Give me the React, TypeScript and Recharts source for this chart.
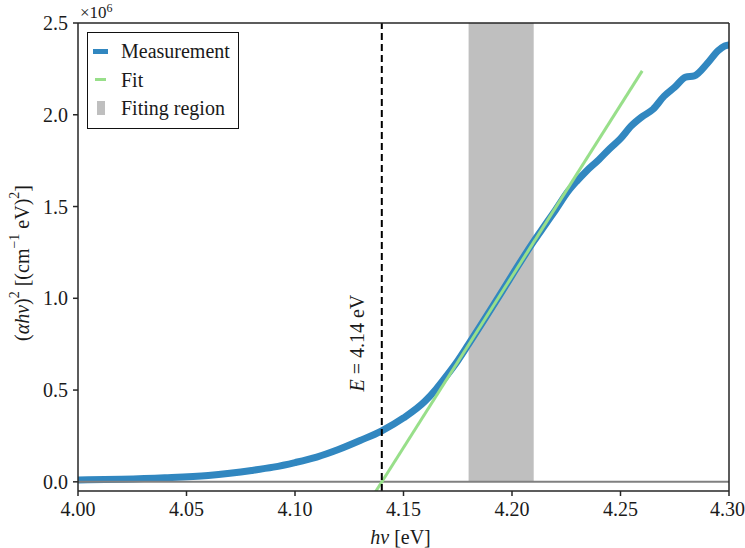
import React from 'react';
import { ComposedChart, Line, XAxis, YAxis, ReferenceArea, ReferenceLine, Legend } from 'recharts';

// Measurement (x in eV, y in 1e6 (cm^-1 eV)^2)
const measX = [4.0, 4.02, 4.04, 4.06, 4.07, 4.08, 4.09, 4.1, 4.11, 4.12, 4.13, 4.14, 4.15, 4.16, 4.165, 4.17, 4.175, 4.18, 4.19, 4.2, 4.21, 4.215, 4.22, 4.226, 4.23, 4.234, 4.24, 4.245, 4.25, 4.255, 4.26, 4.265, 4.27, 4.275, 4.28, 4.284, 4.29, 4.295, 4.298, 4.3, 4.305];
const measY = [0.01, 0.014, 0.022, 0.035, 0.047, 0.062, 0.08, 0.105, 0.135, 0.176, 0.225, 0.278, 0.348, 0.44, 0.505, 0.58, 0.66, 0.75, 0.935, 1.125, 1.31, 1.395, 1.48, 1.585, 1.64, 1.69, 1.755, 1.815, 1.87, 1.94, 1.99, 2.03, 2.1, 2.15, 2.205, 2.212, 2.28, 2.35, 2.375, 2.38, 2.39];

// Linear fit
const fitX = [4.13, 4.26];
const fitY = [-0.187, 2.239];

const bandGap = 4.14;
const regionStart = 4.18;
const regionEnd = 4.21;

const xTicks = [4.0, 4.05, 4.1, 4.15, 4.2, 4.25, 4.3];
const yTicks = [0, 0.5, 1.0, 1.5, 2.0, 2.5];
const xDomain = [4.0, 4.3];
const yDomain = [-0.05, 2.5];

const seriesNames = ['Measurement', 'Fit', 'Fiting region'];

const measData = measX.map((x, i) => ({ x, y: measY[i] }));
const fitData = fitX.map((x, i) => ({ x, y: fitY[i] }));

const FONT = '"Liberation Serif", "DejaVu Serif", serif';
const BLUE = '#3187c0';
const GREEN = '#98df8a';
const GRAY = '#bfbfbf';
const INK = '#1a1a1a';

const YTitle = (props: any) => {
  const vb = props.viewBox || { x: 0, y: 23, width: 78, height: 468 };
  const cx = 22;
  const cy = vb.y + vb.height / 2 + 6;
  const right = vb.x + vb.width;
  return (
    <g>
      <text
        x={cx}
        y={cy}
        transform={`rotate(-90, ${cx}, ${cy})`}
        textAnchor="middle"
        dominantBaseline="central"
        fontFamily={FONT}
        fontSize={20}
        fill={INK}
      >
        <tspan>(</tspan>
        <tspan fontStyle="italic">αhν</tspan>
        <tspan>)</tspan>
        <tspan dy={-8} fontSize={14}>2</tspan>
        <tspan dy={8}> [(cm</tspan>
        <tspan dy={-8} fontSize={14}>−1</tspan>
        <tspan dy={8}> eV)</tspan>
        <tspan dy={-8} fontSize={14}>2</tspan>
        <tspan dy={8}>]</tspan>
      </text>
      <text x={right + 2} y={vb.y - 5} fontFamily={FONT} fontSize={17} fill={INK}>
        <tspan>×10</tspan>
        <tspan dy={-6} fontSize={12}>6</tspan>
      </text>
    </g>
  );
};

const XTitle = (props: any) => {
  const vb = props.viewBox || { x: 78, y: 491, width: 651, height: 57 };
  const cx = vb.x + vb.width / 2 - 3;
  const cy = vb.y + 46;
  return (
    <text x={cx} y={cy} textAnchor="middle" dominantBaseline="central" fontFamily={FONT} fontSize={20} fill={INK}>
      <tspan fontStyle="italic">hν</tspan>
      <tspan> [eV]</tspan>
    </text>
  );
};

const EdgeLabel = (props: any) => {
  const vb = props.viewBox || { x: 382, y: 23, width: 0, height: 468 };
  const cx = vb.x - 25;
  const cy = vb.y + vb.height * 0.684;
  return (
    <text
      x={cx}
      y={cy}
      transform={`rotate(-90, ${cx}, ${cy})`}
      textAnchor="middle"
      dominantBaseline="central"
      fontFamily={FONT}
      fontSize={20}
      fill={INK}
    >
      <tspan fontStyle="italic">E</tspan>
      <tspan> = 4.14 eV</tspan>
    </text>
  );
};

const LegendBox = () => (
  <div
    style={{
      border: '1.5px solid #111',
      background: '#fff',
      padding: '4px 8px 5px 5px',
      fontFamily: FONT,
      fontSize: 20,
      color: INK,
      lineHeight: '28.5px',
      textAlign: 'left',
    }}
  >
    {seriesNames.map((name, i) => (
      <div key={name} style={{ display: 'flex', alignItems: 'center' }}>
        <span style={{ width: 15, display: 'inline-flex', justifyContent: 'center', marginRight: 13 }}>
          {i === 0 && <span style={{ display: 'block', width: 15, height: 5, background: BLUE }} />}
          {i === 1 && <span style={{ display: 'block', width: 11, height: 3, background: GREEN }} />}
          {i === 2 && <span style={{ display: 'block', width: 8, height: 14, background: GRAY }} />}
        </span>
        <span>{name}</span>
      </div>
    ))}
  </div>
);

export default function App() {
  return (
    <div style={{ position: 'absolute', left: 0, top: 0, width: 745, height: 548, background: '#fff' }}>
      <ComposedChart width={745} height={548} margin={{ top: 23, right: 16, bottom: 0, left: 0 }}>
        <XAxis
          type="number"
          dataKey="x"
          domain={xDomain}
          ticks={xTicks}
          allowDataOverflow
          tickFormatter={(v: number) => v.toFixed(2)}
          height={57}
          tickSize={5}
          tickMargin={6}
          stroke="#262626"
          strokeWidth={1.5}
          tick={{ fill: INK, fontSize: 20, fontFamily: FONT }}
          label={<XTitle />}
        />
        <YAxis
          type="number"
          domain={yDomain}
          ticks={yTicks}
          allowDataOverflow
          tickFormatter={(v: number) => v.toFixed(1)}
          width={78}
          tickSize={5}
          tickMargin={5}
          stroke="#262626"
          strokeWidth={1.5}
          tick={{ fill: INK, fontSize: 20, fontFamily: FONT }}
          label={<YTitle />}
        />
        <ReferenceArea x1={regionStart} x2={regionEnd} y1={0} y2={2.5} fill={GRAY} fillOpacity={1} stroke="none" />
        <Line data={measData} dataKey="y" type="monotone" stroke={BLUE} strokeWidth={7} dot={false} isAnimationActive={false} strokeLinejoin="round" strokeLinecap="butt" />
        <ReferenceLine y={0} stroke="#808080" strokeWidth={2} />
        <Line data={fitData} dataKey="y" stroke={GREEN} strokeWidth={3} dot={false} isAnimationActive={false} />
        <ReferenceLine x={bandGap} stroke="#000" strokeWidth={2} strokeDasharray="7 4" label={<EdgeLabel />} />
        <ReferenceLine y={2.5} stroke="#262626" strokeWidth={1.5} />
        <ReferenceLine x={4.3} stroke="#262626" strokeWidth={1.5} />
        <Legend
          layout="vertical"
          align="center"
          verticalAlign="middle"
          content={<LegendBox />}
          wrapperStyle={{ position: 'absolute', left: 87, top: 32, width: 'auto', height: 'auto' }}
        />
      </ComposedChart>
    </div>
  );
}
